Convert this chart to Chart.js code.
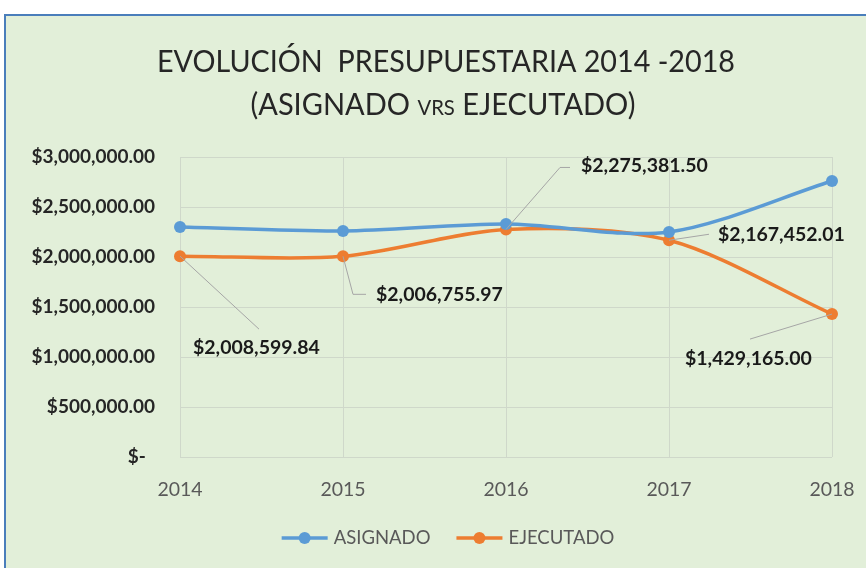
<!DOCTYPE html>
<html>
<head>
<meta charset="utf-8">
<script src="https://cdn.jsdelivr.net/npm/chart.js@4.4.1/dist/chart.umd.min.js"></script>
<style>
  html, body { margin: 0; padding: 0; background: #fff; }
  #wrap { width: 866px; height: 568px; }
</style>
</head>
<body>
<div id="wrap"><canvas id="myChart"></canvas></div>
<script>
// data
const years = ['2014', '2015', '2016', '2017', '2018'];
const asignado = [2300000, 2260000, 2330000, 2250000, 2760000];
const ejecutado = [2008599.84, 2006755.97, 2275381.50, 2167452.01, 1429165.00];
const yTicks = [0, 500000, 1000000, 1500000, 2000000, 2500000, 3000000];
const seriesNames = ['ASIGNADO', 'EJECUTADO'];
const titleLine1 = 'EVOLUCIÓN  PRESUPUESTARIA 2014 -2018';
const titleLine2 = ['(ASIGNADO ', 'VRS', ' EJECUTADO)'];

const blue = '#5b9bd5';
const orange = '#ed7d31';
const font = 'Lato';

function money(v) {
    if (v === 0) return '$-  ';
    return '$' + v.toLocaleString('en-US', {minimumFractionDigits: 2, maximumFractionDigits: 2});
}

// where each data label of EJECUTADO sits, relative to its point
// t = text left/middle, l = leader line points
const labelSpots = [
    {i: 0, t: [13, 92], l: [[79, 73]]},
    {i: 1, t: [33, 38], l: [[10, 38], [23, 38]]},
    {i: 2, t: [75, -64], l: [[54, -62], [64, -62]]},
    {i: 3, t: [49, -6], l: [[40, -6]]},
    {i: 4, t: [-147, 45], l: [[-82, 25]]},
];

const bgPlugin = {
    id: 'bg',
    beforeDraw(chart) {
        const ctx = chart.ctx;
        ctx.save();
        ctx.fillStyle = '#ffffff';
        ctx.fillRect(0, 0, chart.width, chart.height);
        ctx.fillStyle = '#e2efd9';
        ctx.fillRect(5, 15, chart.width - 5, chart.height - 15);
        ctx.strokeStyle = '#4a7ebb';
        ctx.lineWidth = 2;
        ctx.beginPath();
        ctx.moveTo(5, chart.height);
        ctx.lineTo(5, 15);
        ctx.lineTo(chart.width, 15);
        ctx.stroke();
        ctx.restore();
    }
};

const titlePlugin = {
    id: 'bigTitle',
    afterDraw(chart) {
        const ctx = chart.ctx;
        ctx.save();
        ctx.fillStyle = '#262626';
        ctx.textBaseline = 'middle';
        ctx.textAlign = 'center';
        ctx.font = '30px ' + font;
        ctx.fillText(titleLine1, 446, 62, 578);

        // second line with small caps "VRS"
        const sizes = [30, 21, 30];
        let widths = titleLine2.map((s, k) => {
            ctx.font = sizes[k] + 'px ' + font;
            return ctx.measureText(s).width;
        });
        const total = widths.reduce((a, b) => a + b, 0);
        const target = 385;
        const sc = Math.min(1, target / total);
        let x = 443 - total * sc / 2;
        ctx.textAlign = 'left';
        ctx.textBaseline = 'alphabetic';
        titleLine2.forEach((s, k) => {
            ctx.font = sizes[k] + 'px ' + font;
            ctx.fillText(s, x, 115, widths[k] * sc);
            x += widths[k] * sc;
        });
        ctx.restore();
    }
};

const labelPlugin = {
    id: 'ptLabels',
    afterDatasetsDraw(chart) {
        const ctx = chart.ctx;
        const meta = chart.getDatasetMeta(1);
        ctx.save();
        labelSpots.forEach(s => {
            const p = meta.data[s.i];
            ctx.strokeStyle = '#a6a6a6';
            ctx.lineWidth = 1;
            ctx.beginPath();
            ctx.moveTo(p.x, p.y);
            s.l.forEach(q => ctx.lineTo(p.x + q[0], p.y + q[1]));
            ctx.stroke();
            ctx.fillStyle = '#1a1a1a';
            ctx.font = 'bold 19.5px ' + font;
            ctx.textAlign = 'left';
            ctx.textBaseline = 'middle';
            ctx.fillText(money(ejecutado[s.i]), p.x + s.t[0], p.y + s.t[1], 132);
        });
        ctx.restore();
    }
};

const legendPlugin = {
    id: 'legendLine',
    afterDraw(chart) {
        const ctx = chart.ctx;
        const cols = [blue, orange];
        ctx.save();
        ctx.font = '18.5px ' + font;
        const lineW = 46, gap = 6, between = 26;
        const tw = seriesNames.map(n => ctx.measureText(n).width);
        const total = tw[0] + tw[1] + 2 * (lineW + gap) + between;
        let x = 448 - total / 2;
        const y = 538;
        seriesNames.forEach((n, k) => {
            ctx.strokeStyle = cols[k];
            ctx.lineWidth = 3.5;
            ctx.beginPath();
            ctx.moveTo(x, y);
            ctx.lineTo(x + lineW, y);
            ctx.stroke();
            ctx.fillStyle = cols[k];
            ctx.beginPath();
            ctx.arc(x + lineW / 2, y, 6, 0, Math.PI * 2);
            ctx.fill();
            ctx.fillStyle = '#595959';
            ctx.textAlign = 'left';
            ctx.textBaseline = 'middle';
            ctx.fillText(n, x + lineW + gap, y);
            x += lineW + gap + tw[k] + between;
        });
        ctx.restore();
    }
};

const data = {
    labels: years,
    datasets: [{
        label: seriesNames[0],
        data: asignado,
        borderColor: blue,
        backgroundColor: blue,
        borderWidth: 3.5,
        pointRadius: 6,
        pointBorderWidth: 0,
        tension: 0.3,
    },
    {
        label: seriesNames[1],
        data: ejecutado,
        borderColor: orange,
        backgroundColor: orange,
        borderWidth: 3.5,
        pointRadius: 6,
        pointBorderWidth: 0,
        tension: 0.3,
    }]
};

const config = {
    type: 'line',
    data: data,
    options: {
        responsive: true,
        maintainAspectRatio: false,
        animation: false,
        events: [],
        layout: {
            padding: {top: 157, right: 34, bottom: 0, left: 0}
        },
        scales: {
            x: {
                offset: false,
                grid: {color: '#cfd8ca', drawTicks: false},
                border: {display: false},
                ticks: {color: '#595959', padding: 21, font: {family: font, size: 19.5}},
                afterFit(scale) {
                    scale.height = 111;
                    scale.paddingLeft = 0;
                    scale.paddingRight = 0;
                }
            },
            y: {
                min: 0,
                max: 3000000,
                afterBuildTicks(scale) { scale.ticks = yTicks.map(v => ({value: v})); },
                grid: {color: '#cfd8ca', drawTicks: false},
                border: {display: false},
                ticks: {
                    color: '#262626',
                    padding: 25,
                    font: {family: font, size: 19, weight: 'bold'},
                    callback: v => money(v)
                },
                afterFit(scale) {
                    scale.width = 180;
                    scale.paddingTop = 0;
                    scale.paddingBottom = 0;
                }
            }
        },
        plugins: {
            legend: {display: false},
            title: {display: false},
            tooltip: {enabled: false}
        }
    },
    plugins: [bgPlugin, titlePlugin, labelPlugin, legendPlugin]
};

const myChart = new Chart(document.getElementById('myChart'), config);
</script>
</body>
</html>
